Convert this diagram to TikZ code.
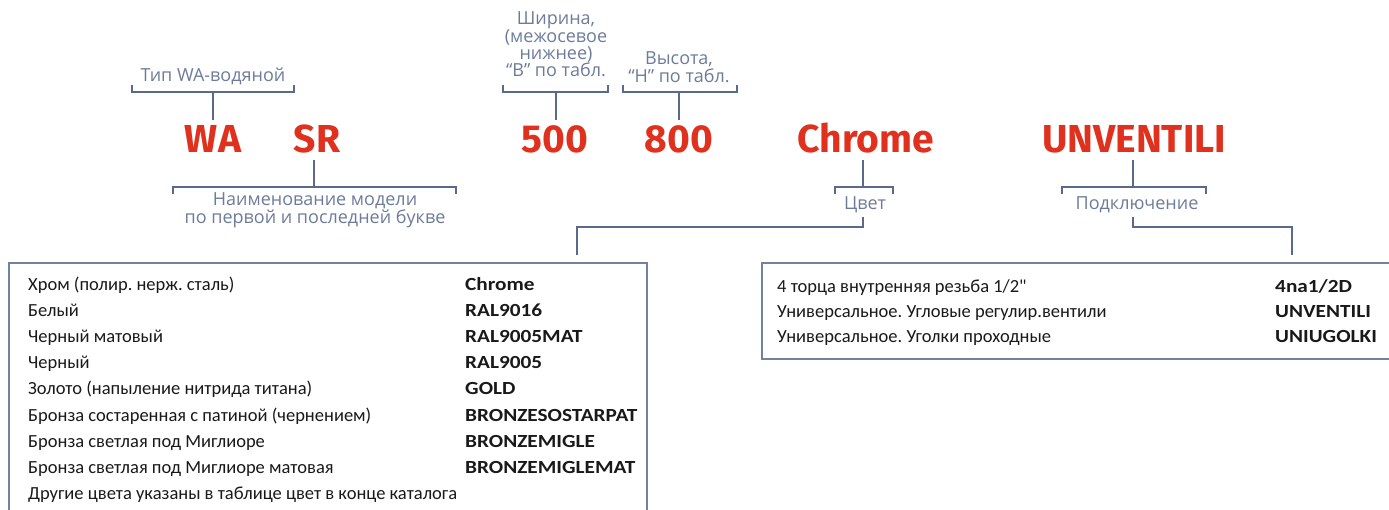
\documentclass[tikz,border=0pt]{standalone}
\usepackage{fontspec}
\setmainfont{Open Sans}
\newfontfamily\redfont{Fira Sans}
\newfontfamily\boxfont{Carlito}
\newfontfamily\boxboldfont[FakeStretch=1.15]{Carlito Bold}
\usetikzlibrary{calc}
\frenchspacing
\definecolor{markRed}{HTML}{E0301E}
\definecolor{lineBlue}{HTML}{5A6A8C}
\definecolor{labelBlue}{HTML}{6D7B9B}
\definecolor{boxBlue}{HTML}{7282A2}
\tikzset{
    codeWord/.style={anchor=base, inner ysep=6pt, text=markRed, font=\redfont\bfseries\fontsize{39}{39}\selectfont},
    capLabel/.style={anchor=base, inner sep=3pt, text=labelBlue, align=center, font=\fontsize{18}{18}\selectfont},
    bracketLine/.style={draw=lineBlue, line width=1.8pt},
    boxLine/.style={draw=boxBlue, line width=1.2pt},
    rowText/.style={anchor=base west, inner sep=0pt, text=black!90, font=\boxfont\fontsize{18.5}{18.5}\selectfont},
    rowCode/.style={rowText, font=\boxboldfont\fontsize{18.5}{18.5}\selectfont},
}
\newcommand{\capUp}[2]{
    \draw[bracketLine] ($(#1)+(0,-7)$) -- (#1) -- (#2) -- ($(#2)+(0,-7)$);
}
\newcommand{\capDown}[2]{
    \draw[bracketLine] ($(#1)+(0,7)$) -- (#1) -- (#2) -- ($(#2)+(0,7)$);
}
\begin{document}
\begin{tikzpicture}[x=1pt, y=-1pt]
        \useasboundingbox (0,0) rectangle (1389,510);

        % code words
        \node[codeWord] (WA) at (213,153) {WA};
        \node[codeWord] (SR) at (317,153) {SR};
        \node[codeWord] (W500) at (555,153) {500};
        \node[codeWord] (H800) at (679,153) {800};
        \node[codeWord] (Chrome) at (866,153) {Chrome};
        \node[codeWord] (UNV) at (1134,153) {UNVENTILI};

        % labels (base = last line)
        \node[capLabel] (typeLbl) at (213,82) {Тип WA-водяной};
        \node[capLabel, font=\fontsize{18}{17}\selectfont] (widthLbl) at (556,77) {Ширина,\\(межосевое\\нижнее)\\“В” по табл.};
        \node[capLabel] (heightLbl) at (679,83) {Высота,\\“Н” по табл.};
        \node[capLabel] (modelLbl) at (315,224) {Наименование модели\\по первой и последней букве};
        \node[capLabel] (colorLbl) at (865,210) {Цвет};
        \node[capLabel] (connLbl) at (1137,210) {Подключение};

        % brackets
        \coordinate (tL) at (132,92); \coordinate (tR) at (294,92); \coordinate (tM) at (213,92);
        \coordinate (wL) at (503,92); \coordinate (wR) at (608,92); \coordinate (wM) at (556,92);
        \coordinate (hL) at (623,92); \coordinate (hR) at (737,92); \coordinate (hM) at (679,92);
        \coordinate (mL) at (173,187); \coordinate (mR) at (456,187); \coordinate (mM) at (314,187);
        \coordinate (cL) at (835,187); \coordinate (cR) at (893,187); \coordinate (cM) at (863,187);
        \coordinate (pL) at (1062,187); \coordinate (pR) at (1206,187); \coordinate (pM) at (1133,187);

        \capUp{tL}{tR}
        \capUp{wL}{wR}
        \capUp{hL}{hR}
        \capDown{mL}{mR}
        \capDown{cL}{cR}
        \capDown{pL}{pR}

        \draw[bracketLine] (tM) -- (tM |- WA.north);
        \draw[bracketLine] (wM) -- (wM |- W500.north);
        \draw[bracketLine] (hM) -- (hM |- H800.north);
        \draw[bracketLine] (mM) -- (mM |- SR.south);
        \draw[bracketLine] (cM) -- (cM |- Chrome.south);
        \draw[bracketLine] (pM) -- (pM |- UNV.south);

        % drops to the tables
        \coordinate (cKnee) at (863,227); \coordinate (cDrop) at (577,255);
        \coordinate (pKnee) at (1133,227); \coordinate (pDrop) at (1292,255);
        \draw[bracketLine] (cM |- colorLbl.south) -- (cKnee) -| (cDrop);
        \draw[bracketLine] (pM |- connLbl.south) -- (pKnee) -| (pDrop);

        % colour table
        \draw[boxLine] (9,525) rectangle (647,263);
        \foreach \name/\code [count=\i from 0] in {
            {Хром (полир. нерж. сталь)}/{Chrome},
            {Белый}/{RAL9016},
            {Черный матовый}/{RAL9005MAT},
            {Черный}/{RAL9005},
            {Золото (напыление нитрида титана)}/{GOLD},
            {Бронза состаренная с патиной (чернением)}/{BRONZESOSTARPAT},
            {Бронза светлая под Миглиоре}/{BRONZEMIGLE},
            {Бронза светлая под Миглиоре матовая}/{BRONZEMIGLEMAT},
            {Другие цвета указаны в таблице цвет в конце каталога}/{}}
        {
            \node[rowText] (colName\i) at (28,291+26*\i) {\name};
            \node[rowCode] (colCode\i) at (465,291+26*\i) {\code};
        }

        % connection table
        \draw[boxLine] (762,263) rectangle (1400,359);
        \foreach \name/\code [count=\i from 0] in {
            {4 торца внутренняя резьба 1/2"}/{4na1/2D},
            {Универсальное. Угловые регулир.вентили}/{UNVENTILI},
            {Универсальное. Уголки проходные}/{UNIUGOLKI}}
        {
            \node[rowText] (conName\i) at (777,293+24.7*\i) {\name};
            \node[rowCode] (conCode\i) at (1275,293+24.7*\i) {\code};
        }

    \end{tikzpicture}
\end{document}
